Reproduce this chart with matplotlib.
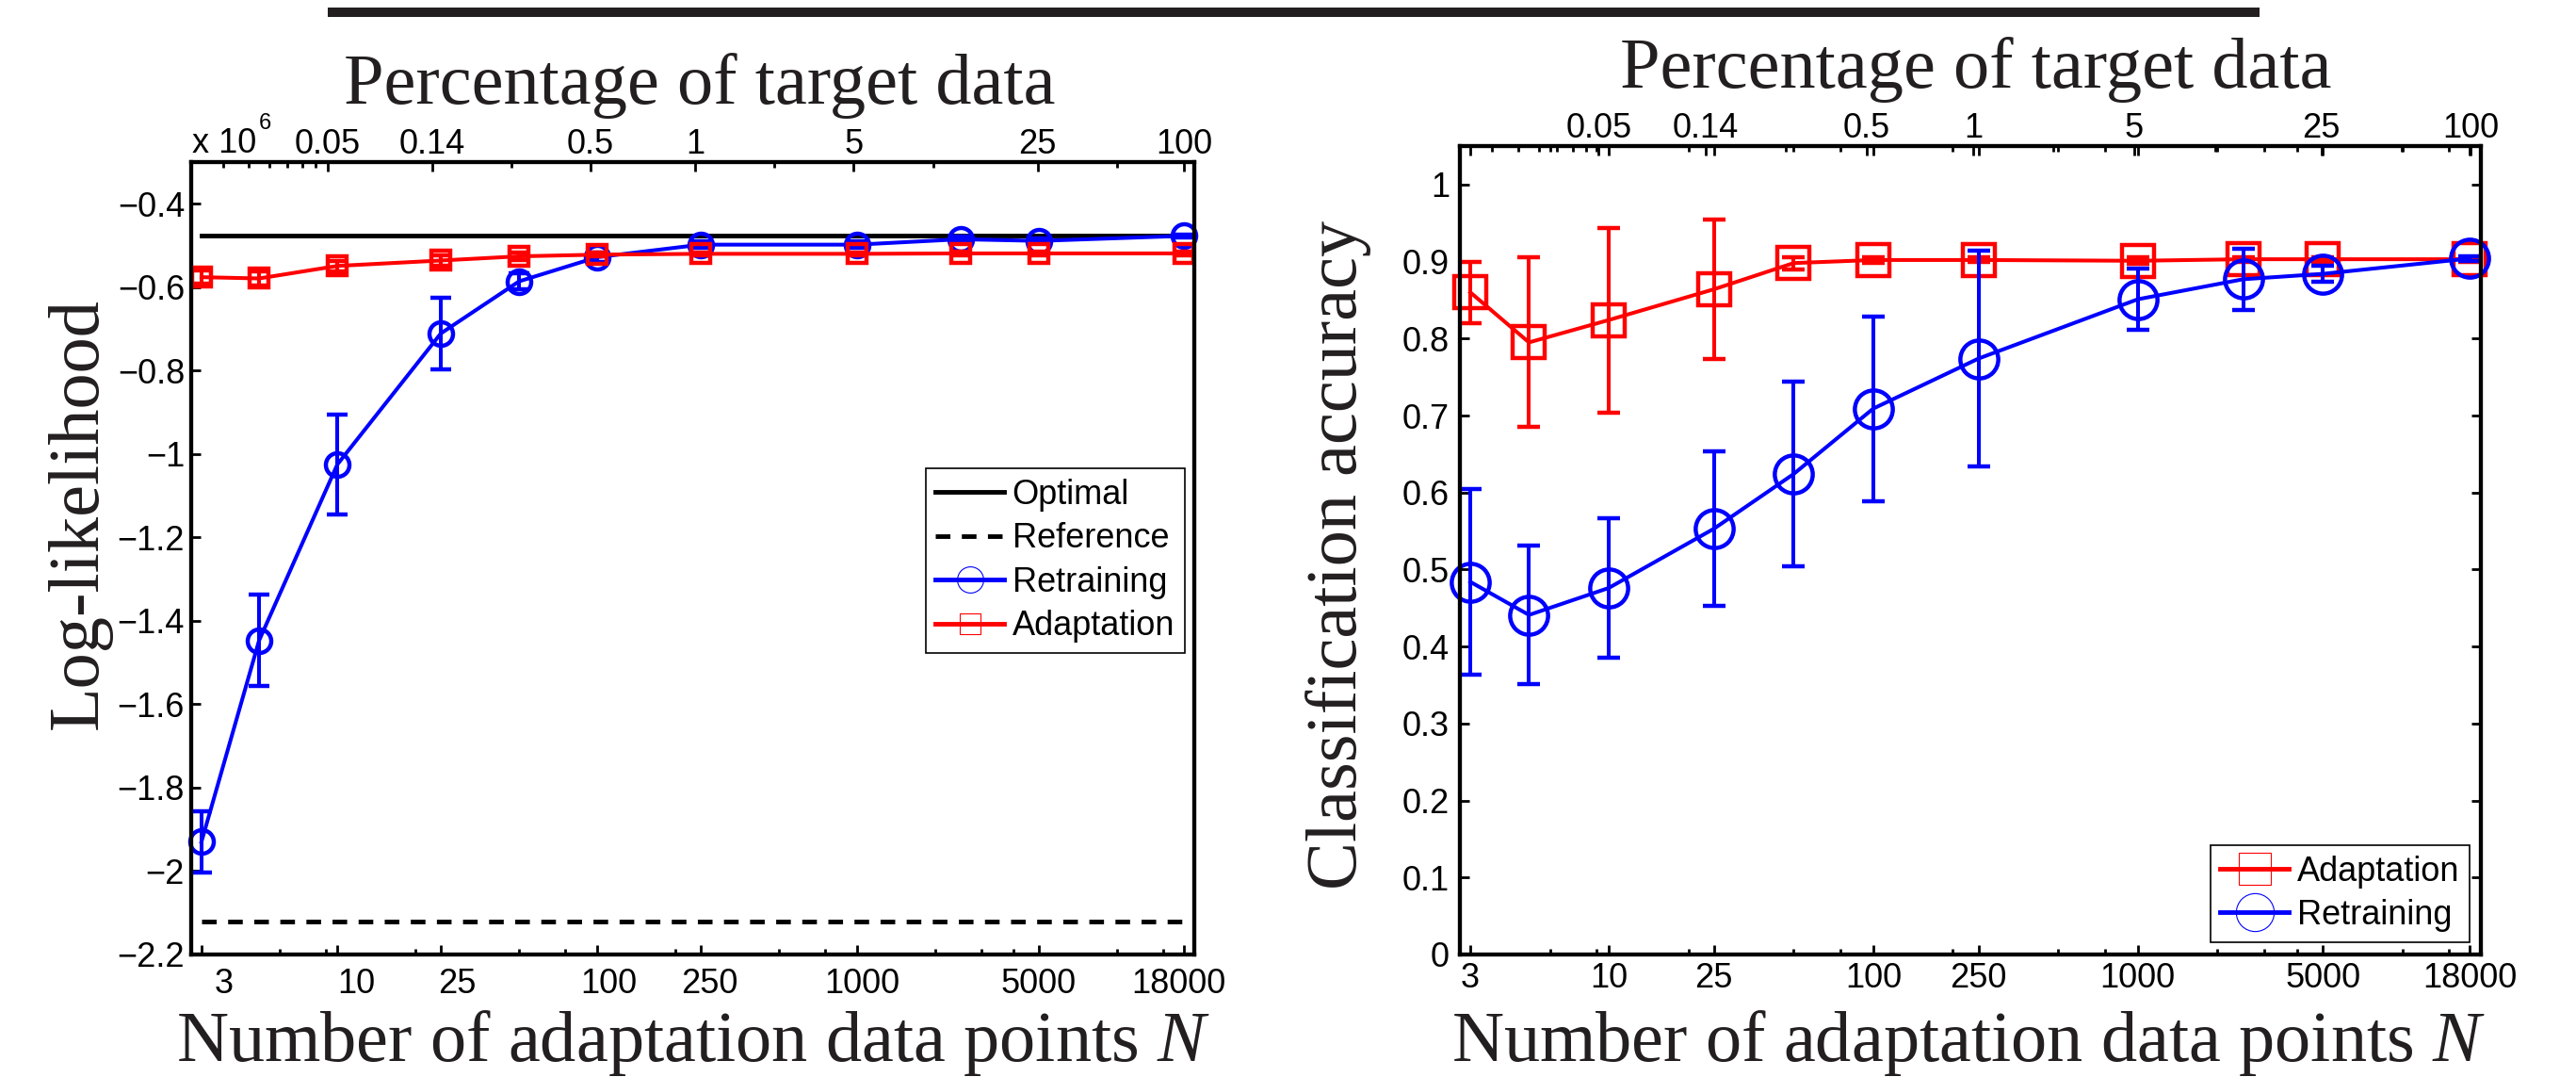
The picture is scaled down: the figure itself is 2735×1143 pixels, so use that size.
import numpy as np
import matplotlib
matplotlib.use('Agg')
import matplotlib.pyplot as plt
from matplotlib.lines import Line2D
from matplotlib.patches import Rectangle
from matplotlib.ticker import FixedLocator, NullFormatter, FuncFormatter

W, H = 2735, 1143

plt.rcParams['font.family'] = ['Liberation Sans', 'DejaVu Sans']
plt.rcParams['mathtext.fontset'] = 'custom'
plt.rcParams['mathtext.rm'] = 'Liberation Serif'
plt.rcParams['mathtext.it'] = 'Liberation Serif:italic'

# number of adaptation data points (x for every series)
n_points = [3, 5, 10, 25, 50, 100, 250, 1000, 2500, 5000, 18000]

# left panel: log-likelihood (x 10^6)
ll_retrain = [-1.930, -1.447, -1.025, -0.711, -0.586, -0.528, -0.498, -0.498, -0.485, -0.489, -0.477]
ll_retrain_err = [0.073, 0.11, 0.12, 0.085, 0.02, 0.012, 0.008, 0.008, 0.006, 0.006, 0.004]
ll_adapt = [-0.576, -0.579, -0.549, -0.536, -0.526, -0.522, -0.520, -0.520, -0.519, -0.519, -0.519]
ll_adapt_err = [0.016, 0.016, 0.012, 0.012, 0.008, 0.005, 0.004, 0.004, 0.004, 0.004, 0.004]
ll_optimal = -0.477
ll_reference = -2.12

# right panel: classification accuracy
acc_adapt = [0.860, 0.795, 0.824, 0.864, 0.898, 0.902, 0.902, 0.901, 0.903, 0.903, 0.903]
acc_adapt_err = [0.04, 0.11, 0.12, 0.09, 0.008, 0.004, 0.003, 0.004, 0.003, 0.003, 0.003]
acc_retrain = [0.484, 0.441, 0.476, 0.553, 0.624, 0.709, 0.774, 0.851, 0.877, 0.884, 0.904]
acc_retrain_err = [0.12, 0.09, 0.09, 0.10, 0.12, 0.12, 0.14, 0.04, 0.04, 0.01, 0.003]

# axis ticks
n_ticks = [3, 10, 25, 100, 250, 1000, 5000, 18000]
n_labels = ['3', '10', '25', '100', '250', '1000', '5000', '18000']
n_minor = [6, 9, 20, 50, 75, 200, 500, 750, 2000, 3000, 4000, 10000, 15000]
pct_ticks = [10, 25, 100, 250, 1000, 5000, 18000]
pct_labels = ['0.05', '0.14', '0.5', '1', '5', '25', '100']
pct_minor = [4, 5, 6, 7, 8, 9, 50, 500, 2000, 10000]
ll_ticks = np.round(np.arange(-2.2, -0.35, 0.2), 1)
acc_ticks = np.round(np.arange(0, 1.05, 0.1), 1)

SERIF = 'Liberation Serif'
TXT = '#231f20'
FS = 26


def px_box(left, right, top, bottom):
    return [left / W, 1 - bottom / H, (right - left) / W, (bottom - top) / H]


def fig_xy(x, y):
    return x / W, 1 - y / H


def fmt(v, pos):
    return ('%g' % v).replace('-', '\u2212')


def style(ax):
    for s in ax.spines.values():
        s.set_linewidth(3)
    ax.tick_params(which='both', direction='in', width=2, labelsize=FS)
    ax.tick_params(which='major', length=7)
    ax.tick_params(which='minor', length=4)


def setup_bottom(ax, ylim, yticks):
    ax.set_xscale('log')
    ax.set_xlim(2.74, 19800)
    ax.set_xticks(n_ticks, n_labels)
    ax.xaxis.set_minor_locator(FixedLocator(n_minor))
    ax.xaxis.set_minor_formatter(NullFormatter())
    ax.set_ylim(*ylim)
    ax.set_yticks(yticks)
    ax.yaxis.set_major_formatter(FuncFormatter(fmt))
    ax.yaxis.set_minor_locator(FixedLocator([]))
    style(ax)
    ax.tick_params(axis='x', pad=6)


def add_top(ax):
    top = ax.twiny()
    top.set_xscale('log')
    top.set_xlim(3.03, 19700)
    top.set_xticks(pct_ticks, pct_labels)
    top.xaxis.set_minor_locator(FixedLocator(pct_minor))
    top.xaxis.set_minor_formatter(NullFormatter())
    style(top)
    top.tick_params(axis='x', pad=1)
    return top


def make_legend(ax, handles, labels, **kw):
    leg = ax.legend(handles, labels, borderaxespad=0, fontsize=FS,
                    handlelength=2.0, handletextpad=0.25, borderpad=0.3,
                    labelspacing=0.32, fancybox=False, edgecolor='k',
                    framealpha=1, **kw)
    leg.get_frame().set_linewidth(1.2)
    return leg


fig = plt.figure(figsize=(W / 100, H / 100), dpi=100)

# rule at the very top
x0, y0 = fig_xy(348, 18)
fig.add_artist(Rectangle((x0, y0), (2399 - 348) / W, 10 / H,
                         transform=fig.transFigure, color=TXT, lw=0))

# ---------------- left panel ----------------
ax1 = fig.add_axes(px_box(203, 1268, 172, 1013))
ends = [n_points[0], n_points[-1]]
ax1.plot(ends, [ll_optimal] * 2, color='k', lw=3.5)
ax1.plot(ends, [ll_reference] * 2, color='k', lw=3.5, ls='--', dashes=(3.2, 2.5))
ax1.errorbar(n_points, ll_retrain, yerr=ll_retrain_err, color='b', marker='o',
             ms=18, mfc='none', mew=3.2, lw=2.9, elinewidth=2.9, capsize=8,
             capthick=2.9, clip_on=False, zorder=3)
ax1.errorbar(n_points, ll_adapt, yerr=ll_adapt_err, color='r', marker='s',
             ms=14, mfc='none', mew=3.2, lw=2.9, elinewidth=2.9, capsize=8,
             capthick=2.9, clip_on=False, zorder=4)
setup_bottom(ax1, (-2.2, -0.3), ll_ticks)
ax1.tick_params(axis='y', pad=5)
top1 = add_top(ax1)

# the bottom labels of this panel sit on a slightly different scale
lbl1 = ax1.twiny()
lbl1.set_xscale('log')
lbl1.set_xlim(2.22, 20700)
lbl1.xaxis.tick_bottom()
lbl1.set_xticks(n_ticks, n_labels)
lbl1.xaxis.set_minor_locator(FixedLocator([]))
lbl1.tick_params(axis='x', length=0, labelsize=FS, pad=10)
for s in lbl1.spines.values():
    s.set_visible(False)
ax1.tick_params(axis='x', labelbottom=False)

h_opt = Line2D([], [], color='k', lw=3.5)
h_ref = Line2D([], [], color='k', lw=3.5, ls='--', dashes=(3.2, 2.5))
h_ret = Line2D([], [], color='b', lw=3.5, marker='o', ms=20, mfc='none', mew=0.8)
h_ada = Line2D([], [], color='r', lw=3.5, marker='s', ms=16, mfc='none', mew=0.8)
make_legend(ax1, [h_opt, h_ref, h_ret, h_ada],
            ['Optimal', 'Reference', 'Retraining', 'Adaptation'],
            loc='upper right', bbox_to_anchor=(0.9906, 0.6136))

fig.text(*fig_xy(204, 162), 'x 10', fontsize=26, va='baseline', ha='left')
fig.text(*fig_xy(275, 137), '6', fontsize=17, va='baseline', ha='left')

fig.text(*fig_xy(743, 110), 'Percentage of target data', family=SERIF,
         fontsize=55, color=TXT, ha='center', va='baseline')
fig.text(*fig_xy(736, 1126), 'Number of adaptation data points $N$', family=SERIF,
         fontsize=55, color=TXT, ha='center', va='baseline')
fig.text(*fig_xy(103, 545), 'Log-likelihood', family=SERIF, fontsize=55,
         color=TXT, ha='center', va='baseline', rotation=90, rotation_mode='anchor')

# ---------------- right panel ----------------
ax2 = fig.add_axes(px_box(1550, 2634, 155, 1013))
ax2.errorbar(n_points, acc_adapt, yerr=acc_adapt_err, color='r', marker='s',
             ms=24, mfc='none', mew=3.2, lw=2.9, elinewidth=2.9, capsize=8.5,
             capthick=2.9, clip_on=False, zorder=3)
ax2.errorbar(n_points, acc_retrain, yerr=acc_retrain_err, color='b', marker='o',
             ms=29, mfc='none', mew=3.2, lw=2.9, elinewidth=2.9, capsize=8.5,
             capthick=2.9, clip_on=False, zorder=4)
setup_bottom(ax2, (0, 1.05), acc_ticks)
ax2.tick_params(axis='y', pad=8)
top2 = add_top(ax2)
ax2.tick_params(axis='x', which='both', top=True)
ax2.tick_params(axis='y', right=True)

h_ada2 = Line2D([], [], color='r', lw=3.5, marker='s', ms=25, mfc='none', mew=0.8)
h_ret2 = Line2D([], [], color='b', lw=3.5, marker='o', ms=29, mfc='none', mew=0.8)
make_legend(ax2, [h_ada2, h_ret2], ['Adaptation', 'Retraining'],
            loc='lower right', bbox_to_anchor=(0.989, 0.0152))

fig.text(*fig_xy(2098, 93), 'Percentage of target data', family=SERIF,
         fontsize=55, color=TXT, ha='center', va='baseline')
fig.text(*fig_xy(2090, 1126), 'Number of adaptation data points $N$', family=SERIF,
         fontsize=55, color=TXT, ha='center', va='baseline')
fig.text(*fig_xy(1440, 589), 'Classification accuracy', family=SERIF, fontsize=55,
         color=TXT, ha='center', va='baseline', rotation=90, rotation_mode='anchor')

fig.savefig('out.png', dpi=100)
